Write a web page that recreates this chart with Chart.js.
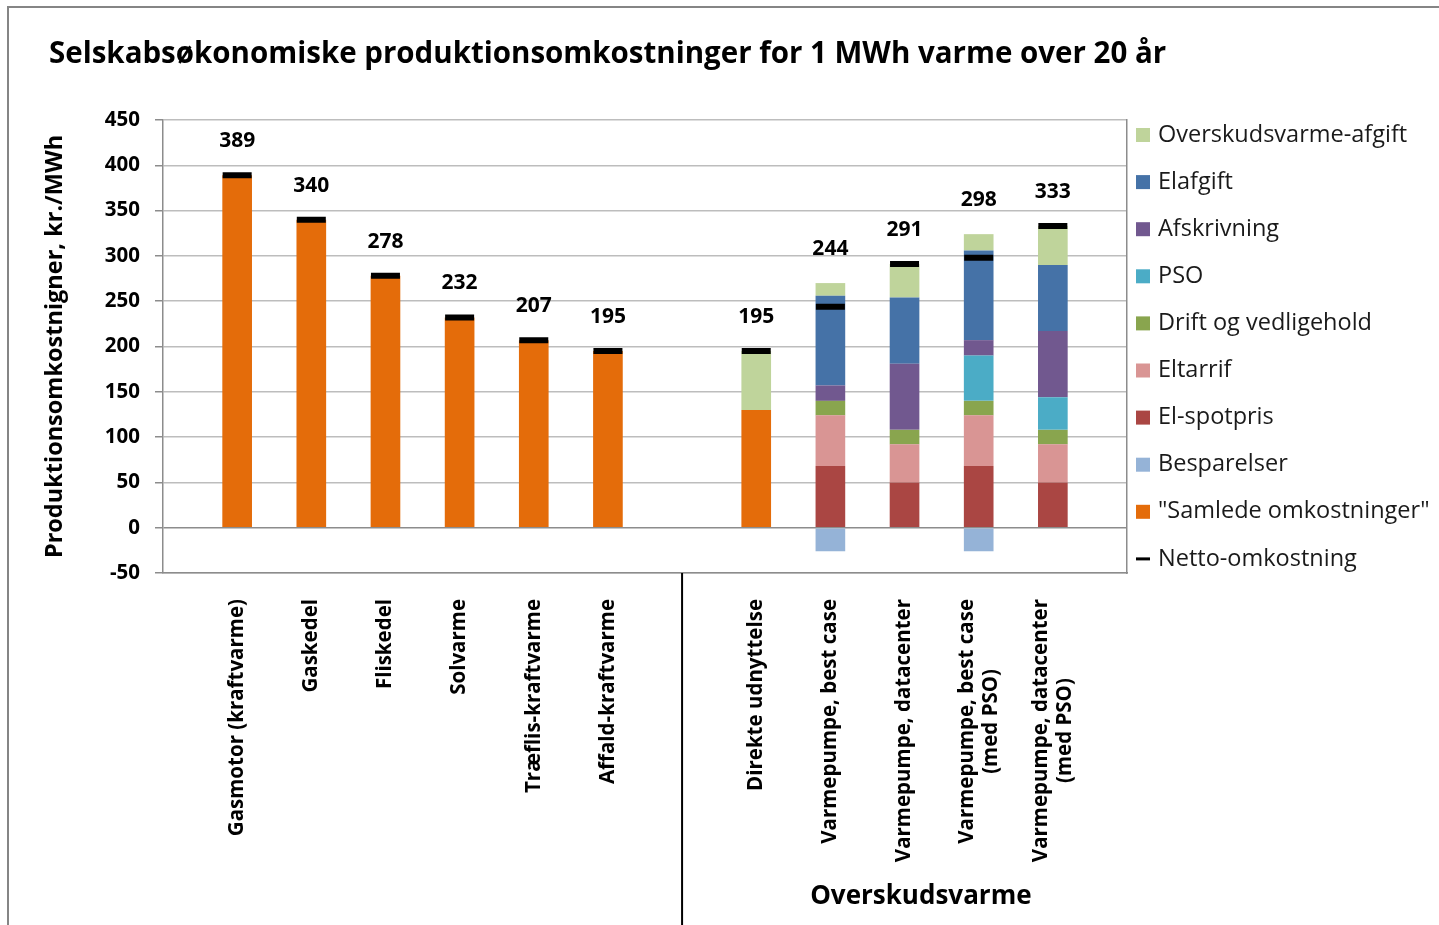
<!DOCTYPE html>
<html>
<head>
<meta charset="utf-8">
<script src="https://cdn.jsdelivr.net/npm/chart.js@4"></script>
<style>
html, body { margin: 0; padding: 0; background: #fff; }
#wrap { width: 1439px; height: 925px; }
</style>
</head>
<body>
<div id="wrap"><canvas id="chart" width="1439" height="925"></canvas></div>
<script>
// categories (empty slots are the gaps at the edges and between the two groups)
var categories = ['', 'Gasmotor (kraftvarme)', 'Gaskedel', 'Fliskedel', 'Solvarme', 'Træflis-kraftvarme', 'Affald-kraftvarme', '',
    'Direkte udnyttelse', 'Varmepumpe, best case', 'Varmepumpe, datacenter',
    ['Varmepumpe, best case', '(med PSO)'], ['Varmepumpe, datacenter', '(med PSO)'], ''];

var samlede         = [null, 389, 340, 278, 232, 207, 195, null, 130, null, null, null, null, null];
var besparelser     = [null, null, null, null, null, null, null, null, null, -26, null, -26, null, null];
var elSpotpris      = [null, null, null, null, null, null, null, null, null, 68, 50, 68, 50, null];
var eltarrif        = [null, null, null, null, null, null, null, null, null, 56, 42, 56, 42, null];
var drift           = [null, null, null, null, null, null, null, null, null, 16, 16, 16, 16, null];
var pso             = [null, null, null, null, null, null, null, null, null, null, null, 50, 36, null];
var afskrivning     = [null, null, null, null, null, null, null, null, null, 17, 73, 17, 73, null];
var elafgift        = [null, null, null, null, null, null, null, null, null, 99, 73, 99, 73, null];
var overskudsAfgift = [null, null, null, null, null, null, null, null, 65, 14, 37, 18, 43, null];
var netto           = [null, 389, 340, 278, 232, 207, 195, null, 195, 244, 291, 298, 333, null];

var chartTitle = 'Selskabsøkonomiske produktionsomkostninger for 1 MWh varme over 20 år';
var yTitle = 'Produktionsomkostnigner, kr./MWh';
var groupLabel = 'Overskudsvarme';

var FONT = '"Open Sans", sans-serif';
Chart.defaults.font.family = FONT;
Chart.defaults.color = '#000';

function bar(label, data, color) {
    return { label: label, data: data, backgroundColor: color, stack: 'cost', pointStyle: 'rect' };
}

var extras = {
    id: 'extras',
    beforeDraw: function (chart) {
        var ctx = chart.ctx;
        ctx.save();
        ctx.fillStyle = '#fff';
        ctx.fillRect(0, 0, chart.width, chart.height);
        ctx.strokeStyle = '#858585';
        ctx.lineWidth = 2;
        ctx.beginPath();
        ctx.moveTo(8, chart.height);
        ctx.lineTo(8, 7);
        ctx.lineTo(chart.width, 7);
        ctx.stroke();
        ctx.restore();
    },
    afterDatasetsDraw: function (chart) {
        // value labels above each column
        var ctx = chart.ctx, xs = chart.scales.x, ys = chart.scales.y;
        ctx.save();
        ctx.font = 'bold 21px ' + FONT;
        ctx.fillStyle = '#000';
        ctx.textAlign = 'center';
        ctx.textBaseline = 'middle';
        netto.forEach(function (v, i) {
            if (v == null) return;
            var top = 0;
            chart.data.datasets.forEach(function (ds) {
                if (ds.type !== 'line' && ds.data[i] > 0) top += ds.data[i];
            });
            ctx.fillText(String(v), xs.getPixelForValue(i), ys.getPixelForValue(top) - 34);
        });
        ctx.restore();
    },
    afterDraw: function (chart) {
        var ctx = chart.ctx, xs = chart.scales.x, area = chart.chartArea;
        ctx.save();
        // rotated category labels
        ctx.font = 'bold 20.5px ' + FONT;
        ctx.fillStyle = '#000';
        categories.forEach(function (lab, i) {
            if (!lab) return;
            var lines = Array.isArray(lab) ? lab : [lab];
            var w = Math.max.apply(null, lines.map(function (l) { return ctx.measureText(l).width; }));
            ctx.save();
            ctx.translate(xs.getPixelForValue(i), area.bottom + 26);
            ctx.rotate(-Math.PI / 2);
            ctx.textAlign = 'center';
            ctx.textBaseline = 'middle';
            lines.forEach(function (l, j) {
                ctx.fillText(l, -w / 2, (j - (lines.length - 1) / 2) * 24);
            });
            ctx.restore();
        });
        // group separator and group name
        var sx = xs.getPixelForValue(7);
        ctx.strokeStyle = '#000';
        ctx.lineWidth = 2;
        ctx.beginPath();
        ctx.moveTo(sx, area.bottom);
        ctx.lineTo(sx, chart.height);
        ctx.stroke();
        var p10 = xs.getPixelForValue(10), p11 = xs.getPixelForValue(11);
        ctx.font = 'bold 26px ' + FONT;
        ctx.textAlign = 'center';
        ctx.textBaseline = 'middle';
        ctx.fillText(groupLabel, p10 + 0.22 * (p11 - p10), 897);

        // legend, top entry = last stacked series
        var sets = chart.data.datasets;
        var items = sets.filter(function (d) { return d.type !== 'line'; }).reverse()
            .concat(sets.filter(function (d) { return d.type === 'line'; }));
        var lx = area.right + 9;
        ctx.font = '23.5px ' + FONT;
        ctx.textAlign = 'left';
        items.forEach(function (d, k) {
            var cy = area.top + 15 + k * 47.1;
            if (d.type === 'line') {
                ctx.fillStyle = d.borderColor;
                ctx.fillRect(lx, cy - 1.5, 14, 3);
            } else {
                ctx.fillStyle = d.backgroundColor;
                ctx.fillRect(lx, cy - 7, 14, 14);
            }
            ctx.fillStyle = '#1a1a1a';
            ctx.fillText(d.label, lx + 22, cy);
        });
        ctx.restore();
    }
};

new Chart(document.getElementById('chart'), {
    type: 'bar',
    data: {
        labels: categories,
        datasets: [
            bar('"Samlede omkostninger"', samlede, '#E46C0A'),
            bar('Besparelser', besparelser, '#95B3D7'),
            bar('El-spotpris', elSpotpris, '#AA4643'),
            bar('Eltarrif', eltarrif, '#D99594'),
            bar('Drift og vedligehold', drift, '#89A54E'),
            bar('PSO', pso, '#4BACC6'),
            bar('Afskrivning', afskrivning, '#71588F'),
            bar('Elafgift', elafgift, '#4572A7'),
            bar('Overskudsvarme-afgift', overskudsAfgift, '#BFD49B'),
            {
                type: 'line',
                label: 'Netto-omkostning',
                data: netto,
                stack: 'net',
                order: -1,
                showLine: false,
                pointStyle: 'line',
                pointRadius: 14.5,
                pointBorderWidth: 6,
                borderColor: '#000',
                backgroundColor: '#000'
            }
        ]
    },
    options: {
        responsive: false,
        animation: false,
        devicePixelRatio: 1,
        layout: { padding: { left: 49, top: 0, right: 0, bottom: 0 } },
        datasets: { bar: { categoryPercentage: 1, barPercentage: 0.4, borderWidth: 0 } },
        plugins: {
            legend: { display: false },
            tooltip: { enabled: false },
            title: {
                display: true,
                text: chartTitle,
                align: 'start',
                color: '#000',
                font: { size: 29.5, weight: 'bold' },
                padding: { top: 37.3, bottom: 47.3 }
            }
        },
        scales: {
            x: {
                stacked: true,
                offset: false,
                grid: { display: false },
                border: { color: '#8c8c8c', width: 1.5 },
                ticks: { display: false },
                afterFit: function (s) { s.height = 352; }
            },
            y: {
                stacked: true,
                min: -50,
                max: 450,
                ticks: { stepSize: 50, padding: 15, color: '#000', font: { size: 20.5, weight: 'bold' } },
                grid: {
                    color: function (c) { return c.tick && c.tick.value === 0 ? '#8c8c8c' : '#bdbdbd'; },
                    lineWidth: 1.5,
                    tickLength: 8,
                    tickColor: '#8c8c8c'
                },
                border: { color: '#8c8c8c', width: 1.5 },
                title: {
                    display: true,
                    text: yTitle,
                    color: '#000',
                    font: { size: 23.5, weight: 'bold' },
                    padding: { top: -8, bottom: 0 }
                },
                afterFit: function (s) { s.width = 114; }
            },
            y2: {
                position: 'right',
                min: -50,
                max: 450,
                ticks: { display: false },
                grid: { drawOnChartArea: false, drawTicks: false },
                border: { color: '#8c8c8c', width: 1.5 },
                afterFit: function (s) { s.width = 312; }
            }
        }
    },
    plugins: [extras]
});
</script>
</body>
</html>
